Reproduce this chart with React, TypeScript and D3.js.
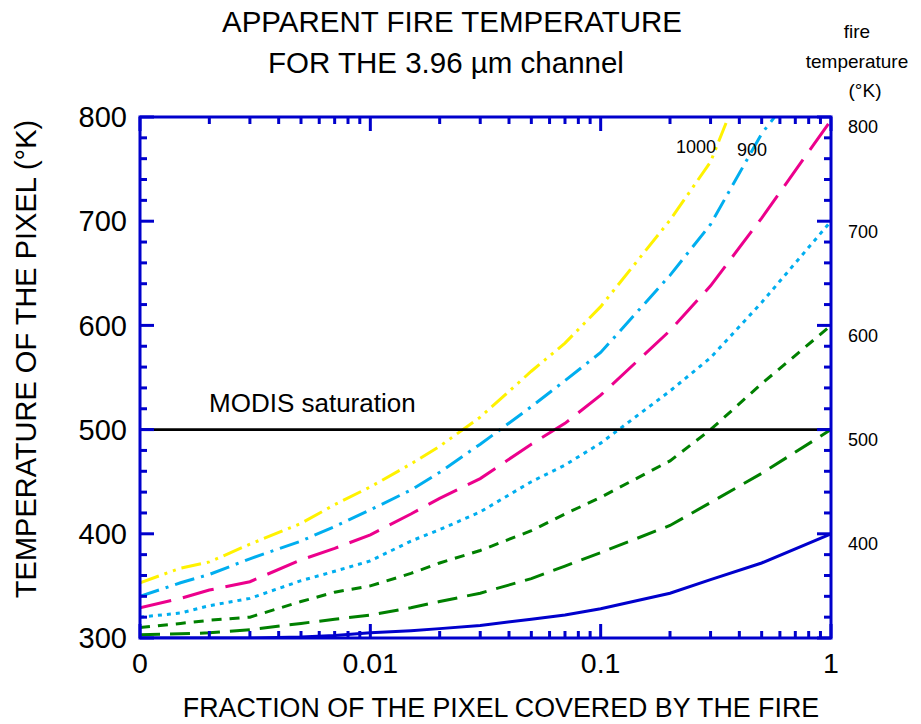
import React from 'react';
import * as d3 from 'd3';

// fraction of the pixel covered by the fire (x, log scale; 0.001 is labelled "0")
const fractions = [0.001, 0.0015, 0.002, 0.003, 0.005, 0.007, 0.01, 0.015, 0.02, 0.03, 0.05, 0.07, 0.1, 0.2, 0.3, 0.5, 1];

// apparent pixel temperature (°K) for each fire temperature
const t400 = [300, 300, 300, 300, 301, 302.5, 305, 307, 309, 312, 318, 322, 328, 343, 356, 372, 400];
const t500 = [303, 304, 305, 308, 314, 318, 322, 329, 335, 343, 357, 369, 382, 408, 430, 458, 500];
const t600 = [310, 314, 317, 320, 335, 344, 350, 362, 372, 384, 403, 419, 435, 470, 500, 544, 600];
const t700 = [320, 324, 331, 338, 355, 364, 374, 393, 404, 421, 450, 466, 487, 537, 569, 622, 700];
const t800 = [329, 338, 346, 354, 375, 386, 399, 419, 434, 453, 486, 506, 533, 595, 638, 703, 797];
const t900 = [340, 353, 361, 376, 393, 407, 423, 442, 459, 486, 522, 547, 574, 648, 697, 784, 870];
const t1000 = [353, 367, 373, 390, 410, 428, 445, 467, 484, 512, 556, 583, 618, 701, 757, 880, 980];

const fireTemps = [400, 500, 600, 700, 800, 900, 1000];
const seriesValues = [t400, t500, t600, t700, t800, t900, t1000];
const seriesColors = ['#0000cc', '#008000', '#008000', '#00aeef', '#ec008c', '#00aeef', '#fff200'];
const seriesDash = ['', '20,10', '10,8', '4,5', '32,12', '20,7,3,7', '20,6,3,6,3,6'];

const rightLabels = [400, 500, 600, 700, 800];
const yMajor = [300, 400, 500, 600, 700, 800];
const xMajor = [0.001, 0.01, 0.1, 1];
const xMajorLabels = ['0', '0.01', '0.1', '1'];
const saturation = 500;

const W = 921;
const H = 724;
const left = 140, right = 831, top = 117, bottom = 638;
const AXIS = '#0000cc';
const FONT = '"Liberation Sans", Arial, sans-serif';

export default function App() {
  const x = d3.scaleLog().domain([0.001, 1]).range([left, right]);
  const y = d3.scaleLinear().domain([300, 800]).range([bottom, top]);

  const line = d3.line<number>()
    .x((d, i) => x(fractions[i]))
    .y(d => y(d));

  // minor ticks: 2..9 of each decade, every 20 K
  const xMinor: number[] = [];
  for (let e = -3; e < 0; e++) {
    for (let k = 2; k <= 9; k++) xMinor.push(k * Math.pow(10, e));
  }
  const yMinor = d3.range(300, 801, 20).filter(v => v % 100 !== 0);

  const major = 14;
  const minor = 7;

  return (
    <svg width={W} height={H} style={{ position: 'absolute', left: 0, top: 0, background: '#fff' }} fontFamily={FONT}>
      <defs>
        <clipPath id="plot">
          <rect x={left} y={top} width={right - left} height={bottom - top} />
        </clipPath>
      </defs>

      {/* titles */}
      <text x={452} y={32} textAnchor="middle" fontSize={29.5}>APPARENT FIRE TEMPERATURE</text>
      <text x={446} y={73} textAnchor="middle" fontSize={29.5}>FOR THE 3.96 µm channel</text>
      <g fontSize={19} textAnchor="middle">
        <text x={857} y={38}>fire</text>
        <text x={857} y={68}>temperature</text>
        <text x={865} y={97}>(°K)</text>
      </g>

      {/* series */}
      <g clipPath="url(#plot)">
        {seriesValues.map((vals, i) => (
          <path key={fireTemps[i]} d={line(vals) || ''} fill="none"
            stroke={seriesColors[i]} strokeWidth={3}
            strokeDasharray={seriesDash[i] || undefined} />
        ))}
      </g>

      {/* saturation line */}
      <line x1={left} x2={right} y1={y(saturation)} y2={y(saturation)} stroke="#000" strokeWidth={2.8} />
      <text x={209} y={412} fontSize={26}>MODIS saturation</text>

      {/* frame */}
      <rect x={left} y={top} width={right - left} height={bottom - top} fill="none" stroke={AXIS} strokeWidth={3} />

      {/* ticks on all four sides, pointing inward */}
      <g stroke={AXIS} strokeWidth={3}>
        {yMajor.map(v => (
          <g key={'ym' + v}>
            <line x1={left} x2={left + major} y1={y(v)} y2={y(v)} />
            <line x1={right} x2={right - major} y1={y(v)} y2={y(v)} />
          </g>
        ))}
        {yMinor.map(v => (
          <g key={'yn' + v}>
            <line x1={left} x2={left + minor} y1={y(v)} y2={y(v)} />
            <line x1={right} x2={right - minor} y1={y(v)} y2={y(v)} />
          </g>
        ))}
        {xMajor.map(v => (
          <g key={'xm' + v}>
            <line x1={x(v)} x2={x(v)} y1={bottom} y2={bottom - major} />
            <line x1={x(v)} x2={x(v)} y1={top} y2={top + major} />
          </g>
        ))}
        {xMinor.map(v => (
          <g key={'xn' + v}>
            <line x1={x(v)} x2={x(v)} y1={bottom} y2={bottom - minor} />
            <line x1={x(v)} x2={x(v)} y1={top} y2={top + minor} />
          </g>
        ))}
      </g>

      {/* tick labels */}
      <g fontSize={29} textAnchor="end">
        {yMajor.map(v => (
          <text key={'yl' + v} x={127} y={y(v)} dy="0.35em">{v}</text>
        ))}
      </g>
      <g fontSize={28.5} textAnchor="middle">
        {xMajor.map((v, i) => (
          <text key={'xl' + v} x={x(v)} y={673}>{xMajorLabels[i]}</text>
        ))}
      </g>
      <g fontSize={18}>
        {rightLabels.map(v => (
          <text key={'rl' + v} x={848} y={y(v) + 10} dy="0.35em">{v}</text>
        ))}
        <text x={676} y={153}>1000</text>
        <text x={737} y={156}>900</text>
      </g>

      {/* axis titles */}
      <text x={501} y={717} textAnchor="middle" fontSize={26.8}>FRACTION OF THE PIXEL COVERED BY THE FIRE</text>
      <text transform={`translate(36,359) rotate(-90)`} textAnchor="middle" fontSize={29}>TEMPERATURE OF THE PIXEL (°K)</text>
    </svg>
  );
}
